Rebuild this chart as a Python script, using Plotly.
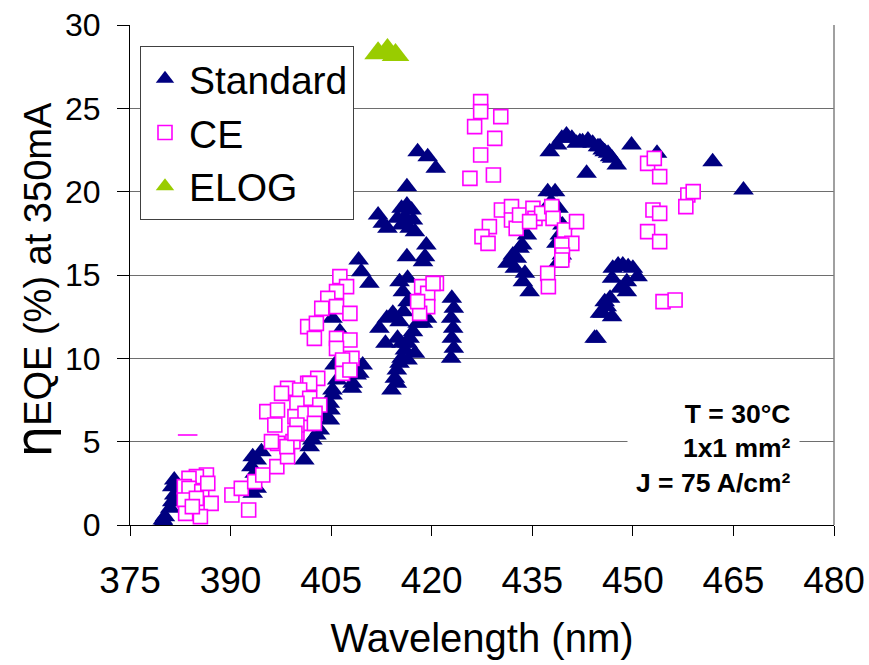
import plotly.graph_objects as go

# ---------------- data ----------------
std_wl = [380.0, 380.2, 379.9,
          381.6, 381.3, 381.6, 381.3, 381.0,
          393.3, 394.6, 393.9, 393.1, 393.6, 393.3, 393.9,
          402.8, 401.8, 401.0, 402.2, 403.3, 404.3, 404.8, 405.2, 408.2, 409.2, 406.3, 405.2,
          405.5, 405.9, 405.2, 404.9, 404.8, 408.1, 408.8, 409.7,
          409.1, 409.5, 410.7, 412.2, 413.1,
          412.0, 412.7, 413.4,
          416.3, 415.5, 416.3, 417.0, 414.9, 416.0, 417.2, 415.5, 416.7, 417.5,
          419.2, 419.0, 418.7, 416.3, 415.2, 416.4, 415.7, 416.4, 415.8, 413.3, 414.2,
          414.0, 414.5, 414.8, 415.2, 415.5, 416.0, 416.4, 416.7, 417.2, 417.9, 414.9, 415.5,
          416.4, 414.8, 417.5, 418.7, 419.3, 415.2, 414.5,
          423.0, 423.3, 422.9, 423.2, 423.0, 423.3, 422.9,
          417.9, 419.4, 420.6,
          434.2, 433.1, 432.7, 432.4, 433.6, 432.1, 434.6, 431.3, 433.9, 433.5,
          437.3, 438.4, 438.1, 439.1, 439.4, 438.8, 437.8, 438.9, 439.5, 438.6,
          437.6, 438.7, 439.4, 440.1, 440.9, 441.6, 442.5, 443.3, 444.0, 444.8, 445.5, 446.3,
          446.9, 447.6, 443.1, 442.1, 445.1, 445.8, 446.6,
          449.8, 453.6, 461.9, 466.5,
          447.0, 447.8, 448.5, 449.3, 450.0, 450.7, 449.1, 448.1, 449.1, 446.9,
          444.3, 445.1, 445.8, 444.6, 445.5, 446.1, 446.6, 446.9]
std_eqe = [0.2, 0.5, 0.3,
           2.7, 2.3, 1.8, 1.4, 1.0,
           4.1, 4.4, 3.9, 3.5, 3.1, 1.9, 2.2,
           5.4, 4.7, 3.9, 5.1, 5.7, 6.5, 7.3, 8.1, 8.5, 9.1, 11.6, 12.4,
           9.6, 8.7, 7.8, 6.9, 6.3, 8.2, 9.0, 9.6,
           15.9, 15.2, 14.5, 11.8, 10.9,
           18.6, 18.1, 17.8,
           20.3, 19.0, 19.2, 18.9, 18.4, 18.5, 18.3, 18.0, 17.8, 17.6,
           16.8, 16.1, 15.8, 16.1, 14.6, 14.8, 14.0, 13.4, 12.8, 12.4, 12.7,
           8.1, 8.8, 9.3, 9.7, 10.0, 10.5, 10.9, 11.2, 11.6, 12.1, 11.2, 10.9,
           9.9, 8.5, 10.3, 12.1, 12.4, 12.2, 12.5,
           13.6, 13.0, 12.4, 11.8, 11.2, 10.6, 10.0,
           22.4, 22.1, 21.4,
           17.4, 16.6, 16.0, 15.4, 14.6, 16.2, 14.0, 15.7, 15.1, 16.8,
           20.0, 20.0, 18.6, 17.4, 16.2, 15.7, 19.4, 19.0, 18.0, 16.9,
           22.4, 22.8, 23.2, 23.4, 23.2, 22.9, 23.0, 23.1, 22.9, 22.7, 22.5, 22.3,
           22.0, 21.6, 21.1, 23.0, 22.7, 22.4, 22.1,
           22.8, 22.3, 21.8, 20.1,
           15.4, 15.6, 15.6, 15.5, 15.4, 14.9, 14.6, 14.2, 14.0, 14.8,
           11.2, 12.7, 13.4, 11.2, 12.7, 13.1, 13.6, 12.5]

ce_wl = [386.4, 384.9, 383.8, 383.1, 383.8, 385.7, 383.1, 387.1, 383.3, 385.5, 384.9, 386.6, 384.3,
         390.2, 391.6, 392.7, 393.6, 394.8, 396.9, 398.5, 397.0, 395.4, 397.0, 396.6, 399.9, 399.3,
         401.5, 401.5, 398.5, 396.1, 398.4,
         406.3, 407.3, 405.8, 404.5, 403.6, 405.8, 407.8, 401.5, 402.8, 402.5, 405.8, 407.8, 405.8,
         408.1, 406.7, 406.7, 407.8, 403.0, 401.8, 400.3, 397.6, 401.8, 403.3, 399.9, 399.6, 401.1,
         402.6, 399.9, 402.5, 399.6,
         418.5, 420.7, 419.4, 419.4, 418.2, 417.9, 420.2,
         427.3, 427.3, 430.3, 426.4, 429.4, 427.3, 429.2, 425.7,
         430.4, 431.9, 428.6, 427.5, 428.4, 431.9, 432.6, 433.1, 435.1, 435.4, 436.4, 437.9, 438.1,
         434.6, 439.8, 441.6, 440.9, 439.4, 439.5, 439.4, 437.3, 437.4,
         452.2, 453.2, 454.0, 453.0, 454.0, 452.2, 454.0, 454.5, 456.3, 458.2, 459.0, 457.9]
ce_eqe = [3.0, 2.9, 2.8, 2.3, 2.2, 2.0, 1.5, 1.3, 0.7, 0.5, 1.6, 2.5, 1.1,
          1.8, 2.2, 0.9, 2.6, 3.0, 3.5, 4.1, 4.9, 6.8, 6.9, 6.0, 5.5, 5.0,
          6.1, 8.5, 8.2, 5.0, 4.7,
          14.9, 14.3, 14.0, 13.6, 13.0, 13.1, 12.7, 11.9, 12.1, 11.2, 11.2, 11.1, 10.6,
          10.0, 9.9, 9.1, 9.3, 8.8, 8.5, 8.1, 7.9, 7.6, 7.2, 7.3, 6.5, 6.7,
          6.7, 6.0, 6.1, 5.5,
          14.3, 14.5, 13.9, 13.1, 12.7, 13.4, 14.5,
          25.4, 24.8, 24.5, 23.9, 23.2, 22.2, 21.0, 20.8,
          18.9, 19.1, 17.9, 17.3, 16.9, 18.3, 17.8, 18.6, 19.0, 18.4, 18.7, 19.1, 18.4,
          18.2, 17.7, 18.2, 16.9, 16.8, 16.2, 15.9, 15.1, 14.3,
          21.7, 22.0, 20.9, 18.9, 18.7, 17.6, 17.0, 13.4, 13.5, 19.8, 20.0, 19.1]

# a CE marker of which only a sliver is visible
ce_flat_wl = [383.6]
ce_flat_eqe = [5.4]

elog_wl = [412.0, 413.4, 414.6]
elog_eqe = [28.3, 28.5, 28.2]

x_ticks = [375, 390, 405, 420, 435, 450, 465, 480]
y_ticks = [0, 5, 10, 15, 20, 25, 30]

FONT = "Liberation Sans, Arial, sans-serif"

fig = go.Figure()
fig.add_trace(go.Scatter(
    x=std_wl, y=std_eqe, mode="markers", name="Standard", legendgroup="a",
    marker=dict(symbol="triangle-up", size=18, color="#000080", line=dict(width=0))))
fig.add_trace(go.Scatter(
    x=ce_wl, y=ce_eqe, mode="markers", name="CE", legendgroup="b",
    marker=dict(symbol="square", size=14, color="white", line=dict(width=1.6, color="#FF00FF"))))
fig.add_trace(go.Scatter(
    x=ce_flat_wl, y=ce_flat_eqe, mode="markers", name="CE", legendgroup="b", showlegend=False,
    marker=dict(symbol="line-ew", size=14, color="#FF00FF", line=dict(width=1.6, color="#FF00FF"))))
fig.add_trace(go.Scatter(
    x=elog_wl, y=elog_eqe, mode="markers", name="ELOG", legendgroup="c",
    marker=dict(symbol="triangle-up", size=24, color="#99CC00", line=dict(width=0))))

fig.update_layout(
    width=869, height=665,
    margin=dict(l=130, r=35, t=25, b=140),
    paper_bgcolor="white", plot_bgcolor="white",
    font=dict(family=FONT, color="black"),
    showlegend=True,
    legend=dict(x=0.0142, y=0.958, xanchor="left", yanchor="top",
                bgcolor="white", bordercolor="#404040", borderwidth=1,
                font=dict(size=39, family=FONT), tracegroupgap=6,
                itemwidth=38, traceorder="normal"),
    xaxis=dict(range=[375, 480], tickmode="array", tickvals=x_ticks,
               ticktext=[str(v) for v in x_ticks], automargin=False,
               showline=True, linecolor="black", linewidth=1,
               ticks="outside", ticklen=10, tickcolor="black",
               showgrid=False, zeroline=False,
               tickfont=dict(size=37, family=FONT), ticklabelstandoff=13,
               title=dict(text="Wavelength (nm)", font=dict(size=40, family=FONT), standoff=23)),
    yaxis=dict(range=[0, 30], tickmode="array", tickvals=y_ticks,
               ticktext=[str(v) for v in y_ticks], automargin=False,
               showline=True, linecolor="black", linewidth=1,
               ticks="outside", ticklen=12, tickcolor="black",
               showgrid=True, gridcolor="#6e6e6e", gridwidth=1, zeroline=False,
               tickfont=dict(size=32, family=FONT), ticklabelstandoff=10),
    shapes=[dict(type="line", xref="paper", yref="paper", x0=1, x1=1, y0=0, y1=1,
                 line=dict(color="#808080", width=1.5))],
    annotations=[
        dict(text="T = 30°C<br>1x1 mm²<br>J = 75 A/cm²",
             xref="paper", yref="paper", x=0.951, y=0.153,
             xanchor="right", yanchor="middle", align="right",
             showarrow=False, bgcolor="white", borderpad=8,
             font=dict(size=26.5, family=FONT, weight="bold", color="black")),
        dict(text="<span style='font-family:DejaVu Sans;font-size:50px'>η</span>EQE (%) at 350mA",
             xref="paper", yref="paper", x=-0.137, y=0.49, textangle=-90,
             xanchor="center", yanchor="middle", showarrow=False,
             font=dict(size=38, family=FONT, color="black")),
    ],
)

fig.write_html("out.html")
